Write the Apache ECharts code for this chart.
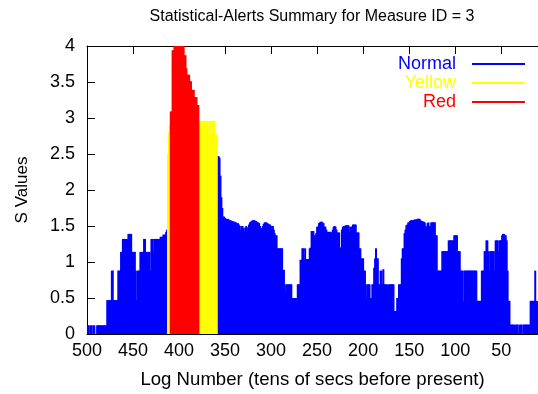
<!DOCTYPE html>
<html>
<head>
<meta charset="utf-8">
<script src="https://cdn.jsdelivr.net/npm/echarts@6/dist/echarts.min.js"></script>
<style>
html,body{margin:0;padding:0;background:#fff;}
#chart{width:538px;height:394px;}
</style>
</head>
<body>
<div id="chart"></div>
<script>
// Log numbers run downward from each segment's start value (one value per log number)
const normalStartA = 500; // 500 .. 413
const normalA = [
  0, 0.12, 0.12, 0, 0.12, 0.12, 0, 0.12, 0.12, 0,
  0, 0.12, 0.12, 0.12, 0.12, 0.12, 0.12, 0.12, 0.12, 0.12,
  0.12, 0.12, 0.47, 0.47, 0.47, 0.47, 0.47, 0.88, 0.88, 0.47,
  0.47, 0.47, 0.47, 0.47, 0.88, 0.88, 0.88, 1.14, 1.14, 1.32,
  1.32, 1.32, 1.32, 1.32, 1.32, 1.39, 1.39, 1.39, 1.39, 1.14,
  1.14, 1.14, 1.14, 0.88, 0.47, 0.88, 0.88, 0.88, 1.14, 1.14,
  1.14, 1.14, 1.32, 1.32, 0.88, 1.14, 1.14, 1.14, 1.14, 0.88,
  1.32, 1.32, 1.14, 1.32, 1.32, 1.32, 1.32, 1.32, 1.32, 1.32,
  1.35, 1.35, 1.35, 1.38, 1.38, 1.38, 1.42, 1.45
];
const yellowStartA = 412; // 412 .. 410
const yellowA = [2.5, 2.8, 2.9];
const redStart = 409; // 409 .. 379
const redValues = [
  3.09, 3.09, 3.94, 3.94, 4.0, 4.0, 4.0, 4.0, 4.0, 4.0,
  4.0, 4.0, 4.0, 4.0, 4.0, 3.87, 3.87, 3.69, 3.6, 3.6,
  3.6, 3.51, 3.51, 3.39, 3.39, 3.39, 3.29, 3.29, 3.29, 3.18,
  3.18
];
const yellowStartB = 378; // 378 .. 359
const yellowB = [
  2.77, 2.96, 2.77, 2.96, 2.96, 2.77, 2.96, 2.77, 2.96, 2.96,
  2.77, 2.96, 2.77, 2.96, 2.96, 2.77, 2.96, 2.77, 2.77, 2.77
];
const normalStartB = 358; // 358 .. 10
const normalB = [
  2.47, 2.47, 2.45, 2.2, 1.9, 1.75, 1.63, 1.63, 1.61, 1.6,
  1.59, 1.6, 1.59, 1.58, 1.58, 1.57, 1.57, 1.56, 1.56, 1.55,
  1.55, 1.5, 1.54, 1.52, 1.5, 1.44, 1.5, 1.5, 1.47, 1.42,
  1.48, 1.5, 1.42, 1.48, 1.52, 1.55, 1.56, 1.57, 1.58, 1.58,
  1.58, 1.57, 1.57, 1.55, 1.55, 1.54, 1.5, 1.47, 1.47, 1.5,
  1.53, 1.55, 1.55, 1.55, 1.54, 1.53, 1.52, 1.52, 1.5, 1.5,
  1.5, 1.45, 1.4, 1.37, 1.37, 1.19, 1.19, 1.19, 1.19, 1.19,
  1.19, 0.89, 0.89, 0.69, 0.58, 0.69, 0.69, 0.69, 0.69, 0.69,
  0.69, 0.5, 0.5, 0.5, 0.5, 0.5, 0.5, 0.69, 0.69, 0.69,
  1.03, 1.03, 1.19, 1.19, 1.04, 1.19, 1.04, 1.04, 1.04, 1.04,
  1.19, 1.2, 1.43, 1.43, 1.43, 1.37, 1.37, 1.4, 1.49, 1.49,
  1.54, 1.55, 1.56, 1.56, 1.55, 1.54, 1.49, 1.49, 1.45, 1.42,
  1.42, 1.2, 1.42, 1.41, 1.41, 1.45, 1.49, 1.5, 1.49, 1.45,
  1.41, 1.41, 1.41, 1.2, 1.2, 1.45, 1.49, 1.5, 1.49, 1.51,
  1.51, 1.51, 1.51, 1.42, 1.49, 1.49, 1.49, 1.52, 1.52, 1.52,
  1.52, 1.41, 1.41, 1.41, 1.19, 1.19, 1.05, 1.05, 1.05, 0.88,
  0.88, 0.69, 0.5, 0.69, 0.69, 0.69, 0.5, 0.5, 0.69, 0.69,
  0.92, 1.05, 1.19, 1.05, 1.05, 0.69, 0.69, 0.88, 0.88, 0.69,
  0.9, 0.69, 0.69, 0.69, 0.5, 0.69, 0.5, 0.69, 0.69, 0.69,
  0.69, 0.69, 0.32, 0.32, 0.32, 0.5, 0.5, 0.69, 0.69, 0.69,
  1.05, 1.19, 1.19, 1.4, 1.45, 1.51, 1.52, 1.55, 1.55, 1.57,
  1.58, 1.58, 1.58, 1.58, 1.59, 1.59, 1.59, 1.6, 1.6, 1.6,
  1.59, 1.57, 1.57, 1.56, 1.56, 1.55, 1.5, 1.48, 1.54, 1.55,
  1.5, 1.5, 1.55, 1.55, 1.55, 1.55, 1.55, 1.37, 1.37, 0.88,
  0.88, 0.88, 0.88, 0.88, 1.15, 1.15, 1.15, 1.15, 1.15, 1.15,
  1.15, 1.3, 1.3, 1.3, 1.3, 1.3, 1.3, 1.37, 1.37, 1.37,
  1.37, 1.15, 1.15, 1.15, 0.88, 0.88, 0.88, 0.46, 0.88, 0.88,
  0.88, 0.88, 0.88, 0.88, 0.88, 0.88, 0.88, 0.88, 0.88, 0.88,
  0.88, 0.88, 0.46, 0.46, 0.46, 0.46, 0.46, 0.88, 0.88, 0.88,
  1.15, 1.15, 1.3, 1.3, 1.15, 0.88, 1.15, 1.15, 1.15, 1.15,
  1.15, 0.88, 1.3, 1.3, 1.3, 1.15, 1.3, 1.3, 1.3, 1.37,
  1.39, 1.39, 1.37, 1.37, 1.3, 0.88, 0.46, 0.46, 0.13, 0.13,
  0.13, 0.13, 0.13, 0, 0.13, 0.13, 0.13, 0, 0.13, 0.13,
  0.13, 0, 0.13, 0.13, 0.13, 0.13, 0.13, 0.13, 0.13, 0.13,
  0.46, 0.46, 0.46, 0.46, 0.46, 0.88, 0.46, 0.46, 0.46
];
const xTickValues = [50, 100, 150, 200, 250, 300, 350, 400, 450, 500];
const titleText = 'Statistical-Alerts Summary for Measure ID = 3';
const xAxisTitle = 'Log Number (tens of secs before present)';
const yAxisTitle = 'S Values';
const seriesNames = ['Normal', 'Yellow', 'Red'];
const seriesColors = ['#0000ff', '#ffff00', '#ff0000'];

function pairs(start, arr) {
  return arr.map((v, i) => [start - i, v]);
}

const FONT = 'Liberation Sans, Arial, Helvetica, sans-serif';
const FS = 18;

const chart = echarts.init(document.getElementById('chart'), null, {renderer: 'canvas'});

const barCommon = {
  type: 'bar',
  barWidth: 2,
  barGap: '-100%',
  animation: false,
  silent: true,
  clip: true
};

chart.setOption({
  animation: false,
  backgroundColor: '#ffffff',
  grid: {left: 87, right: 0, top: 46, bottom: 57, containLabel: false},
  graphic: [{
    type: 'text',
    x: 312, y: 17,
    style: {
      text: titleText, fill: '#000', font: '16px ' + FONT,
      textAlign: 'center', textVerticalAlign: 'middle'
    }
  }],
  legend: {
    orient: 'vertical',
    right: 13,
    top: 55,
    padding: 0,
    align: 'right',
    icon: 'rect',
    itemWidth: 53,
    itemHeight: 2,
    itemGap: 1,
    textStyle: {fontFamily: FONT, fontSize: FS, padding: [0, 11, 0, 0]},
    data: seriesNames.map((n, i) => ({name: n, textStyle: {color: seriesColors[i]}})),
    selectedMode: false
  },
  xAxis: [{
    type: 'value',
    inverse: true,
    min: 10, max: 500,
    position: 'bottom',
    name: xAxisTitle,
    nameLocation: 'middle',
    nameGap: 36,
    nameTextStyle: {fontFamily: FONT, fontSize: 18.6, color: '#000'},
    axisLine: {show: true, onZero: false, lineStyle: {color: '#000', width: 1}},
    axisTick: {show: true, inside: true, length: 8, customValues: xTickValues, lineStyle: {color: '#000'}},
    axisLabel: {show: true, customValues: xTickValues, margin: 8, fontFamily: FONT, fontSize: FS, color: '#000'},
    splitLine: {show: false}
  }, {
    type: 'value',
    inverse: true,
    min: 10, max: 500,
    position: 'top',
    axisLine: {show: true, onZero: false, lineStyle: {color: '#000', width: 1}},
    axisTick: {show: true, inside: true, length: 8, customValues: xTickValues, lineStyle: {color: '#000'}},
    axisLabel: {show: false},
    splitLine: {show: false}
  }],
  yAxis: {
    type: 'value',
    min: 0, max: 4, interval: 0.5,
    name: yAxisTitle,
    nameLocation: 'middle',
    nameGap: 56,
    nameRotate: 90,
    nameTextStyle: {fontFamily: FONT, fontSize: 17, color: '#000'},
    axisLine: {show: true, lineStyle: {color: '#000', width: 1}},
    axisTick: {show: true, inside: true, length: 8, lineStyle: {color: '#000'}},
    axisLabel: {margin: 12, fontFamily: FONT, fontSize: FS, color: '#000'},
    splitLine: {show: false}
  },
  series: [
    Object.assign({}, barCommon, {
      name: 'Normal', itemStyle: {color: seriesColors[0]},
      data: pairs(normalStartA, normalA).concat(pairs(normalStartB, normalB))
    }),
    Object.assign({}, barCommon, {
      name: 'Yellow', itemStyle: {color: seriesColors[1]},
      data: pairs(yellowStartA, yellowA).concat(pairs(yellowStartB, yellowB))
    }),
    Object.assign({}, barCommon, {
      name: 'Red', itemStyle: {color: seriesColors[2]},
      data: pairs(redStart, redValues)
    })
  ]
});
</script>
</body>
</html>
